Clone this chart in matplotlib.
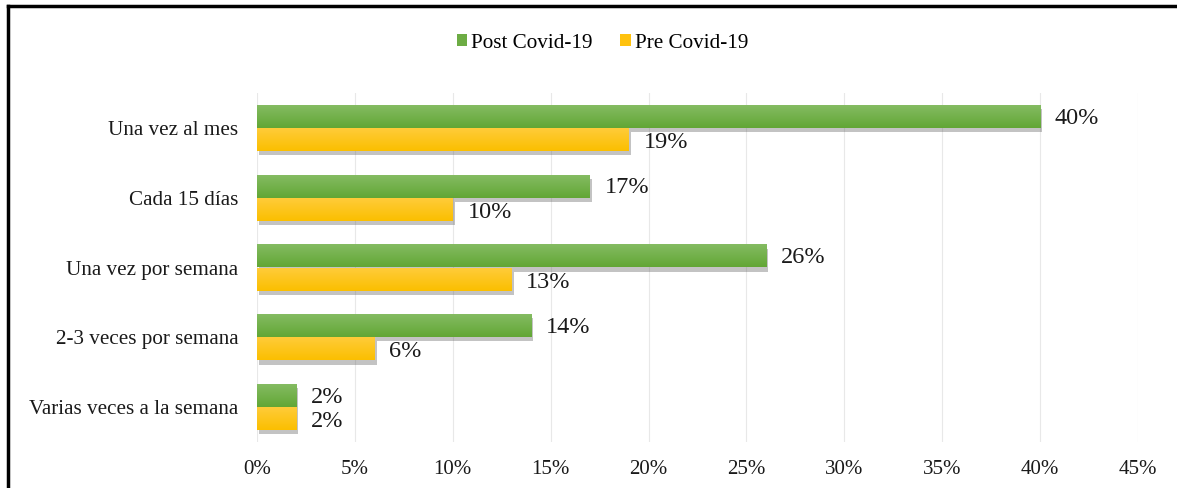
import matplotlib
matplotlib.use("Agg")
import matplotlib.pyplot as plt
import matplotlib.patheffects as pe
from matplotlib.patches import Patch
from matplotlib.colors import LinearSegmentedColormap
import numpy as np

categories = ["Una vez al mes", "Cada 15 días", "Una vez por semana",
              "2-3 veces por semana", "Varias veces a la semana"]
post_covid = [40, 17, 26, 14, 2]
pre_covid = [19, 10, 13, 6, 2]
series_names = ["Post Covid-19", "Pre Covid-19"]
xticks = [0, 5, 10, 15, 20, 25, 30, 35, 40, 45]

GREEN = "#6dac44"
GOLD = "#ffc20e"
GREEN_GRAD = ["#86bd64", "#62a635"]
GOLD_GRAD = ["#ffcc3c", "#fbbf00"]

plt.rcParams['font.family'] = ['Liberation Serif', 'DejaVu Serif']

fig = plt.figure(figsize=(11.77, 4.88), dpi=100)
W, H = 1177, 488
ax = fig.add_axes([257 / W, 1 - 442 / H, (1138 - 257) / W, (442 - 93) / H])

y = np.arange(len(categories))
h = 0.33
shadow = [pe.SimplePatchShadow(offset=(1.5, -3), shadow_rgbFace="#555555", alpha=0.35), pe.Normal()]

b1 = ax.barh(y - h / 2, post_covid, height=h, color=GREEN, zorder=3)
b2 = ax.barh(y + h / 2, pre_covid, height=h, color=GOLD, zorder=3)

grad = np.linspace(0, 1, 64).reshape(-1, 1)
for bars, cols in ((b1, GREEN_GRAD), (b2, GOLD_GRAD)):
    cmap = LinearSegmentedColormap.from_list("g", cols)
    for b in bars:
        b.set_path_effects(shadow)
        x0, y0 = b.get_x(), b.get_y()
        w, hh = b.get_width(), b.get_height()
        im = ax.imshow(grad, cmap=cmap, aspect="auto", origin="upper",
                       extent=(x0, x0 + w, y0 + hh, y0), zorder=3.5, interpolation="bilinear")
        im.set_clip_path(b)

for yi, v in zip(y, post_covid):
    ax.text(v + 0.75, yi - h / 2 + 0.025, f"{v}%", va="center", ha="left", fontsize=17.5, color="#1a1a1a", zorder=4)
for yi, v in zip(y, pre_covid):
    ax.text(v + 0.75, yi + h / 2 + 0.045, f"{v}%", va="center", ha="left", fontsize=17.5, color="#1a1a1a", zorder=4)

ax.set_xlim(0, 45)
ax.set_ylim(4.5, -0.5)
ax.set_xticks(xticks)
ax.set_xticklabels([f"{t}%" for t in xticks], fontsize=15)
ax.set_yticks(y)
ax.set_yticklabels(categories, fontsize=15.2)
ax.tick_params(axis="both", length=0, colors="#1a1a1a")
ax.tick_params(axis="x", pad=13)
ax.tick_params(axis="y", pad=13.5)
ax.grid(axis="x", color="#e8e8e8", linewidth=0.8, zorder=0)
ax.set_axisbelow(True)
for s in ax.spines.values():
    s.set_visible(False)

handles = [Patch(facecolor=GREEN), Patch(facecolor=GOLD)]
fig.legend(handles=handles, labels=series_names, loc="center", bbox_to_anchor=(602.5 / W, 1 - 43 / H),
           ncol=2, frameon=False, fontsize=15.2, handlelength=0.5, handleheight=0.5,
           handletextpad=0.2, columnspacing=1.3)

# figure border (top and left visible)
fig.add_artist(plt.Line2D([8 / W, 1.0], [1 - 6 / H, 1 - 6 / H], transform=fig.transFigure, color="black", linewidth=2.5))
fig.add_artist(plt.Line2D([8 / W, 8 / W], [0, 1 - 6 / H], transform=fig.transFigure, color="black", linewidth=2.5))

fig.savefig("out.png", dpi=100)
